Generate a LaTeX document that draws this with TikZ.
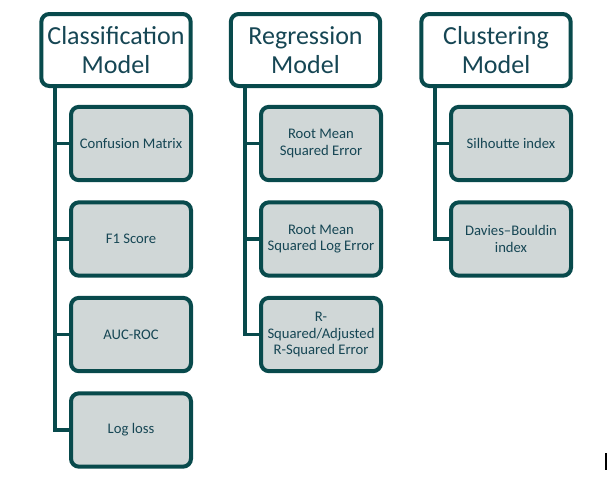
\documentclass[tikz,border=0pt]{standalone}
\usepackage{fontspec}
\setmainfont{Carlito}
\usepackage{tikz}
\usepackage{xcolor}
\definecolor{tealline}{RGB}{8,74,76}
\definecolor{boxgray}{RGB}{208,215,215}
\definecolor{tealtext}{RGB}{22,70,84}

\begin{document}
\begin{tikzpicture}[x=0.75pt,y=0.75pt,yscale=-1,xscale=1,
  head/.style={draw=tealline,line width=3pt,rounded corners=6pt,fill=white,text=tealtext,
    minimum width=112pt,minimum height=54pt,align=center,
    font=\fontsize{19.5}{21.5}\selectfont,inner sep=0pt},
  metric/.style={draw=tealline,line width=3pt,rounded corners=6pt,fill=boxgray,text=tealtext,
    minimum width=90pt,minimum height=55pt,align=center,
    font=\fontsize{11}{12.5}\selectfont,inner sep=0pt},
  trunk/.style={draw=tealline,line width=2.5pt}]
\useasboundingbox (0,0) rectangle (615,486);

% Headers
\node[head] (cls) at (116,50) {Classification\\Model};
\node[head] (reg) at (305.5,50) {Regression\\Model};
\node[head] (clu) at (496,50) {Clustering\\Model};

% Classification metrics
\node[metric] (cm) at (131,143.5) {Confusion Matrix};
\node[metric] (f1) at (131,239) {F1 Score};
\node[metric] (auc) at (131,334.5) {AUC-ROC};
\node[metric] (ll) at (131,430) {Log loss};

% Regression metrics
\node[metric] (rmse) at (321,143.5) {Root Mean\\Squared Error};
\node[metric] (rmsle) at (321,239) {Root Mean\\Squared Log Error};
\node[metric] (rsq) at (321,334.5) {R-\\Squared/Adjusted\\R-Squared Error};

% Clustering metrics
\node[metric] (sil) at (511,143.5) {Silhoutte index};
\node[metric] (dbi) at (511,239) {Davies–Bouldin\\index};

% Trunks
\coordinate (t1) at (55,88);
\coordinate (t2) at (245,88);
\coordinate (t3) at (435,88);
\foreach \m in {cm,f1,auc,ll} \draw[trunk] (t1) |- (\m.west);
\foreach \m in {rmse,rmsle,rsq} \draw[trunk] (t2) |- (\m.west);
\foreach \m in {sil,dbi} \draw[trunk] (t3) |- (\m.west);

% cursor mark
\draw[line width=1.5pt] (605.5,453) -- (605.5,470);

\end{tikzpicture}
\end{document}
